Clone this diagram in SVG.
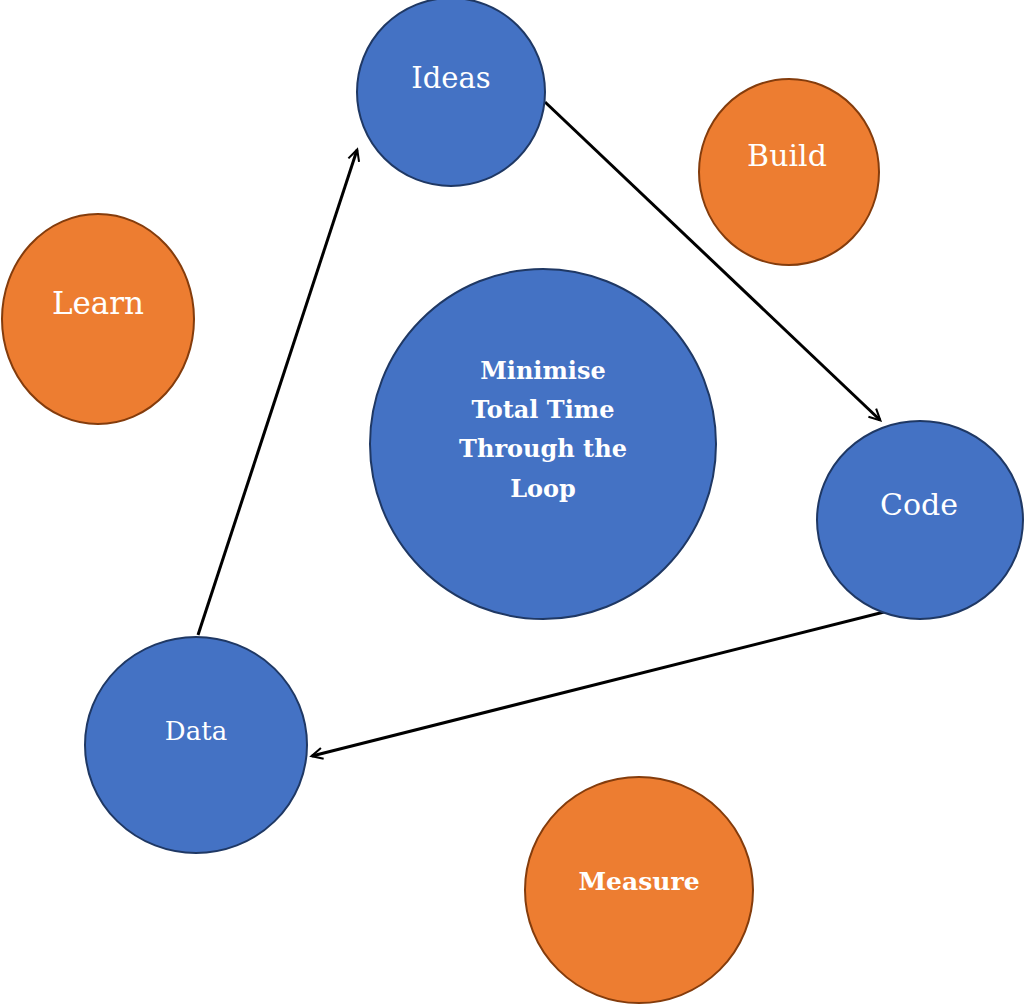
<svg xmlns="http://www.w3.org/2000/svg" width="1024" height="1005" viewBox="0 0 1024 1005">
<style>
.b{fill:#4472c4;stroke:#1f3864;stroke-width:2}
.o{fill:#ed7d31;stroke:#843c0c;stroke-width:2}
text{font-family:"DejaVu Serif","Liberation Serif",serif;fill:#fff;text-anchor:middle}
.c{stroke:#000;stroke-width:3;fill:none;marker-end:url(#a)}
</style>
<defs><marker id="a" viewBox="0 0 12 12" refX="11" refY="6" markerWidth="7" markerHeight="7" orient="auto" markerUnits="userSpaceOnUse" style="overflow:visible"><path d="M0,0 L12,6 L0,12" fill="none" stroke="#000" stroke-width="2.2" transform="scale(1.6) translate(-4.5,-2.2)"/></marker></defs>
<rect width="1024" height="1005" fill="#fff"/>
<g id="connectors">
<line class="c" x1="545" y1="102" x2="880" y2="420"/>
<line class="c" x1="888" y1="611" x2="312" y2="756"/>
<line class="c" x1="198" y1="635" x2="357" y2="150"/>
</g>
<g id="ideas"><ellipse class="b" cx="451" cy="92" rx="94" ry="94"/><text x="451" y="88" font-size="29">Ideas</text></g>
<g id="build"><ellipse class="o" cx="789" cy="172" rx="90" ry="93"/><text x="787" y="166" font-size="30">Build</text></g>
<g id="learn"><ellipse class="o" cx="98" cy="319" rx="96" ry="105"/><text x="98" y="314" font-size="31">Learn</text></g>
<g id="center"><ellipse class="b" cx="543" cy="444" rx="173" ry="175"/>
<text font-size="24" font-weight="bold"><tspan x="543" y="379">Minimise</tspan><tspan x="543" y="418">Total Time</tspan><tspan x="543" y="457">Through the</tspan><tspan x="543" y="497">Loop</tspan></text></g>
<g id="code"><ellipse class="b" cx="920" cy="520" rx="103" ry="99"/><text x="919" y="515" font-size="30">Code</text></g>
<g id="data"><ellipse class="b" cx="196" cy="745" rx="111" ry="108"/><text x="196" y="740" font-size="26">Data</text></g>
<g id="measure"><ellipse class="o" cx="639" cy="890" rx="114" ry="113"/><text x="639" y="890" font-size="25" font-weight="bold">Measure</text></g>
</svg>
